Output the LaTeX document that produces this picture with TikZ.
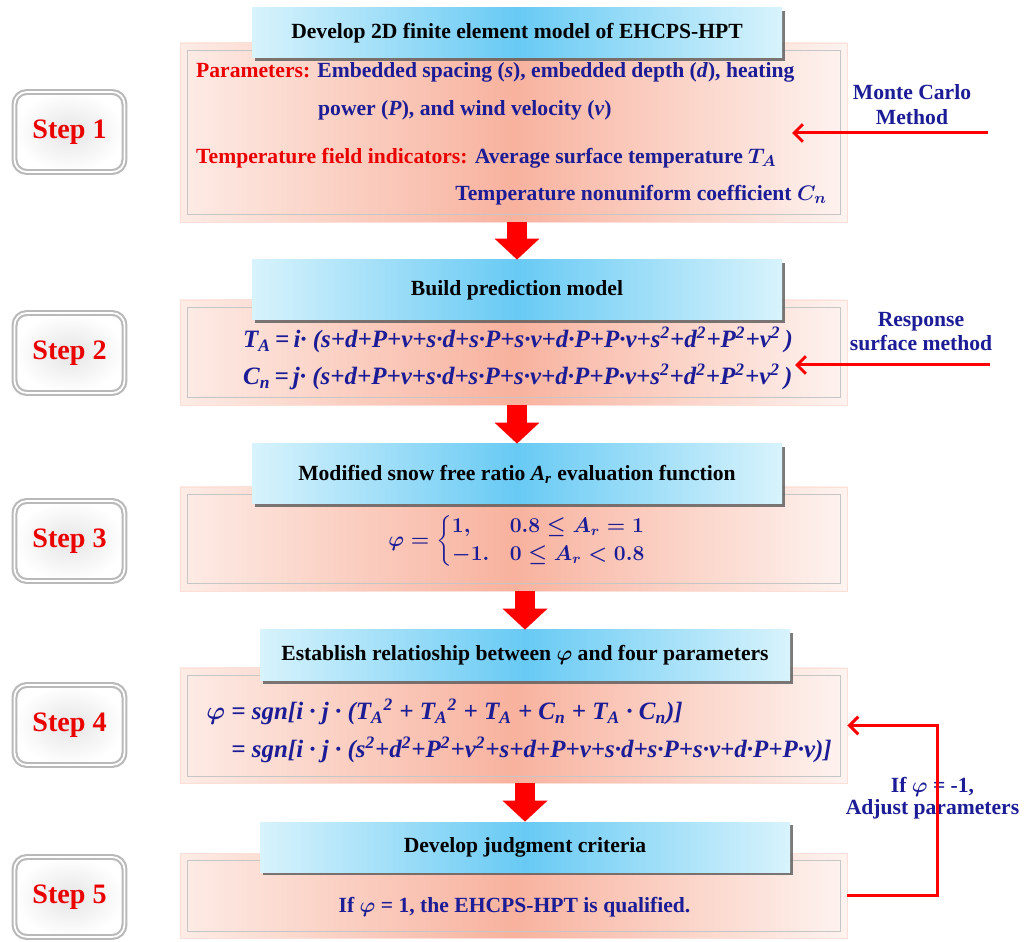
\documentclass[tikz,border=0pt]{standalone}
\usepackage{amsmath}
\usepackage{fontspec}
\setmainfont{Liberation Serif}
\usetikzlibrary{arrows.meta,shadows}
\definecolor{stepred}{RGB}{235,0,0}
\definecolor{txtblue}{RGB}{28,28,150}
\definecolor{pinklight}{RGB}{253,236,230}
\definecolor{pinkdark}{RGB}{248,178,158}
\definecolor{bluelight}{RGB}{216,243,252}
\definecolor{bluedark}{RGB}{104,202,244}
\newcommand{\sq}{\textsuperscript{2}}
\newcommand{\sub}[1]{\textsubscript{#1}}

\begin{document}
\begin{tikzpicture}[
    stepbtn/.style={draw=gray!55, line width=1.2pt, double=white, double distance=1pt,
        rounded corners=7pt, minimum width=2.2cm, minimum height=1.6cm,
        inner color=gray!20, outer color=white, text=stepred,
        font=\fontsize{16}{18}\selectfont\bfseries},
    panel/.style={draw=pinkdark!40, left color=pinklight, right color=pinklight!60,
        middle color=pinkdark, minimum width=13.34cm},
    title/.style={left color=bluelight, right color=bluelight, middle color=bluedark,
        minimum width=10.6cm, font=\fontsize{12.3}{14}\selectfont\bfseries,
        drop shadow={shadow xshift=1.5pt, shadow yshift=-1.5pt, fill=black!65, opacity=0.8}},
    body/.style={text=txtblue, font=\fontsize{12.3}{14}\selectfont\bfseries\boldmath},
    eqn/.style={text=txtblue, font=\fontsize{14.2}{21.5}\selectfont\bfseries\itshape\boldmath},
    blockarrow/.style={red, line width=11pt, -{Triangle[width=25pt, length=12pt]}},
    feed/.style={red, line width=1.7pt, -{Straight Barb[length=5pt, width=10pt]}}
]
    \useasboundingbox (0,0) rectangle (20.7,18.82);

    % Step buttons
    \foreach \i/\y in {1/16.18, 2/11.76, 3/8.0, 4/4.32, 5/0.88}
        \node[stepbtn] (s\i) at (1.39,\y) {Step \i};

    % Panels
    \foreach \i/\y/\h in {1/16.17/3.58, 2/11.77/2.1, 3/8.04/2.08, 4/4.31/2.3, 5/0.91/1.7}
        \node[panel, minimum height=\h cm] (p\i) at (10.27,\y) {};
    \foreach \i in {1,...,5}
        \draw[gray!45] ([shift={(0.15,0.15)}]p\i.south west) rectangle ([shift={(-0.15,-0.15)}]p\i.north east);

    % Titles
    \node[title, minimum height=1.0cm] (t1) at (10.34,18.16) {Develop 2D finite element model of EHCPS-HPT};
    \node[title, minimum height=1.2cm] (t2) at (10.34,13.02) {Build prediction model};
    \node[title, minimum height=1.2cm] (t3) at (10.34,9.34) {Modified snow free ratio \textit{A\textsubscript{r}} evaluation function};
    \node[title, minimum height=1.02cm] (t4) at (10.5,5.71) {Establish relatioship between $\boldsymbol{\varphi}$ and four parameters};
    \node[title, minimum height=1.0cm] (t5) at (10.5,1.88) {Develop judgment criteria};

    % Step 1
    \node[body, anchor=west] (par1) at (3.8,17.38) {\textcolor{stepred}{Parameters:} Embedded spacing (\textit{s}), embedded depth (\textit{d}), heating};
    \node[body, anchor=west] (par2) at (6.24,16.62) {power (\textit{P}), and wind velocity (\textit{v})};
    \node[body, anchor=west] (ind1) at (3.8,15.66) {\textcolor{stepred}{Temperature field indicators:} Average surface temperature $T_A$};
    \node[body, anchor=east] (ind2) at (16.66,14.92) {Temperature nonuniform coefficient $C_n$};

    % Step 2
    \node[eqn, anchor=west] (eqa) at (4.74,12.02) {T\sub{A}\,=\,i· (s+d+P+v+s·d+s·P+s·v+d·P+P·v+s\sq+d\sq+P\sq+v\sq\,)};
    \node[eqn, anchor=west] (eqb) at (4.74,11.28) {C\sub{n}\,=\,j· (s+d+P+v+s·d+s·P+s·v+d·P+P·v+s\sq+d\sq+P\sq+v\sq\,)};

    % Step 3
    \node[body, font=\fontsize{11.6}{13}\selectfont\bfseries\boldmath] (eqc) at (10.35,8.0) {$\varphi=\begin{cases}1, & 0.8\le A_r=1\\ -1. & 0\le A_r<0.8\end{cases}$};

    % Step 4
    \node[eqn, align=left] (eqd) at (10.38,4.2) {$\varphi$ = sgn[i · j · (T\sub{A}\sq\ + T\sub{A}\sq\ + T\sub{A} + C\sub{n} + T\sub{A} · C\sub{n})]\\
        \hphantom{$\varphi$ }= sgn[i · j · (s\sq+d\sq+P\sq+v\sq+s+d+P+v+s·d+s·P+s·v+d·P+P·v)]};

    % Step 5
    \node[body] (res) at (10.29,0.68) {If $\varphi$ = 1, the EHCPS-HPT is qualified.};

    % Block arrows
    \foreach \a/\b in {1/2, 2/3, 3/4, 4/5}
        \draw[blockarrow] (t\b.north |- p\a.south) -- (t\b.north);

    % Side inputs
    \node[body, align=center] (mc) at (18.24,16.73) {Monte Carlo\\Method};
    \coordinate (mcin) at (19.76,16.16);
    \coordinate (mcout) at (15.84,16.16);
    \draw[feed] (mcin) -- (mcout);

    \node[body, align=center] (rsm) at (18.42,12.19) {Response\\surface method};
    \coordinate (rsmin) at (19.8,11.52);
    \coordinate (rsmout) at (15.9,11.52);
    \draw[feed] (rsmin) -- (rsmout);

    % Feedback loop
    \node[body, align=center, font=\fontsize{12.3}{12.5}\selectfont\bfseries\boldmath] (adj) at (18.65,2.86) {If $\varphi$ = -1,\\Adjust parameters};
    \draw[feed] (p5.east) -- ++(1.8,0) |- (p4.east);
\end{tikzpicture}
\end{document}
